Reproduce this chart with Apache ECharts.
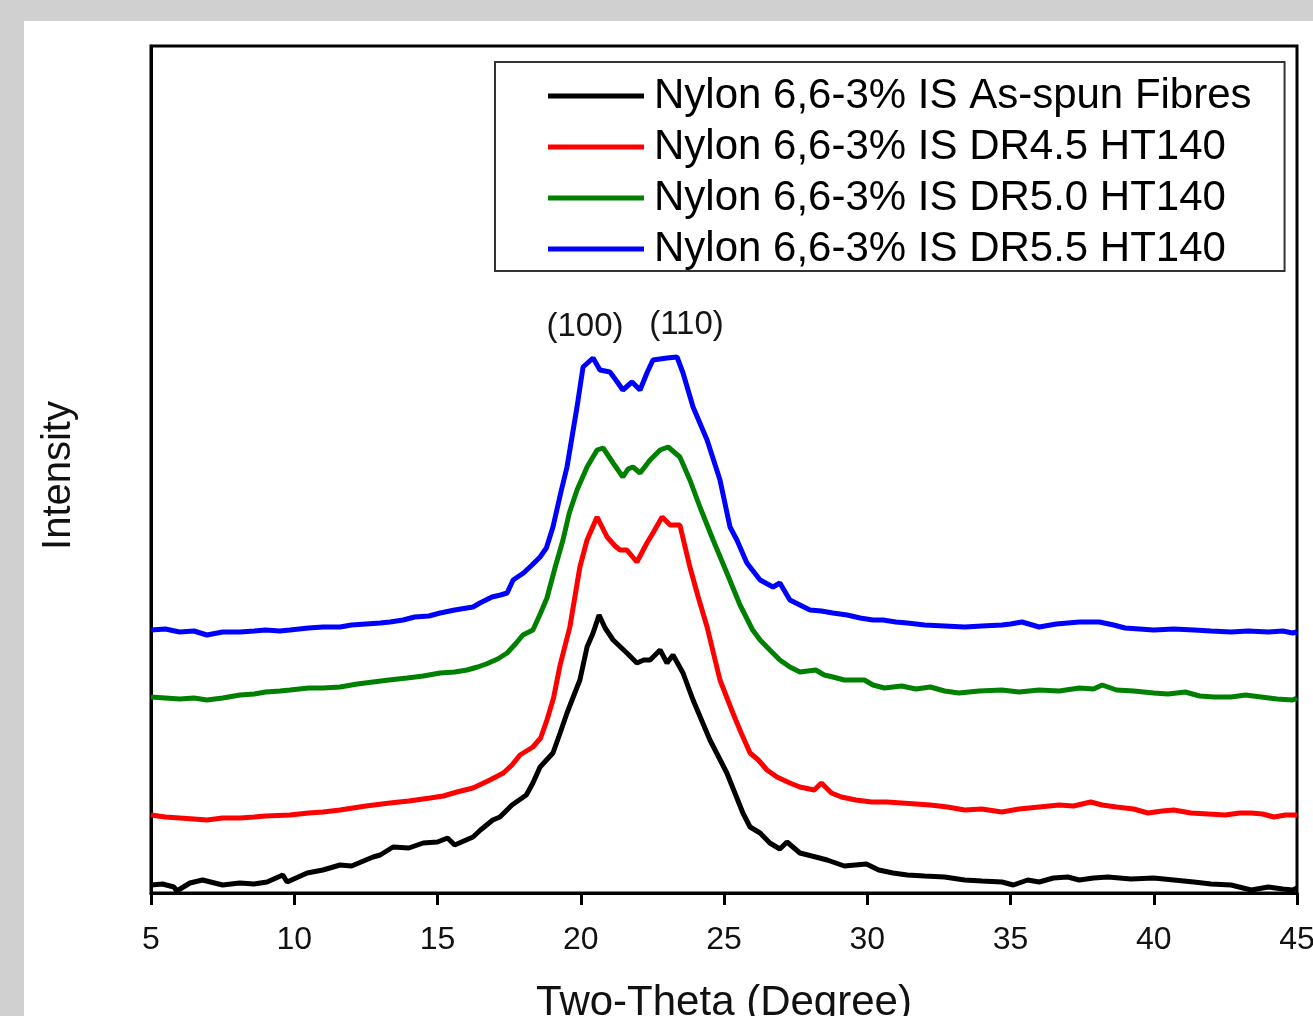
<!DOCTYPE html>
<html><head><meta charset="utf-8">
<script src="https://cdn.jsdelivr.net/npm/echarts@6/dist/echarts.min.js"></script>
<style>
html,body{margin:0;padding:0;background:#d1d0d1;width:1313px;height:1016px;overflow:hidden}
#panel{position:absolute;left:24px;top:21px;width:1289px;height:995px;background:#fff}
</style></head><body><div id="panel"></div>
<script>
const seriesNames = [
  'Nylon 6,6-3% IS As-spun Fibres',
  'Nylon 6,6-3% IS DR4.5 HT140',
  'Nylon 6,6-3% IS DR5.0 HT140',
  'Nylon 6,6-3% IS DR5.5 HT140'
];
const seriesColors = ['#000000', '#ff0000', '#008000', '#0000ff'];
const xTicks = [5, 10, 15, 20, 25, 30, 35, 40, 45];
const peakLabels = ['(100)', '(110)'];
const peakLabelPos = [[20.15, 566], [23.69, 568]];

// [two-theta (degree), intensity (a.u.)]
const asSpun = [[5.0,8],[5.4,9],[5.8,6],[5.9,2],[6.36,10],[6.8,13],[7.5,8],[8.1,10],[8.6,9],[9.05,11],[9.6,18],[9.75,11],[10.45,20],[11.0,23],[11.6,28],[12.0,27],[12.75,36],[13.0,38],[13.45,46],[14.0,45],[14.5,50],[15.0,51],[15.35,55],[15.6,48],[16.24,56],[16.5,63],[16.93,73],[17.18,76],[17.6,88],[18.1,98],[18.33,110],[18.58,126],[19.03,140],[19.28,160],[19.52,180],[19.97,213],[20.22,246],[20.43,260],[20.64,278],[20.85,265],[21.13,253],[21.61,240],[21.96,230],[22.2,233],[22.42,233],[22.77,243],[23.01,230],[23.22,238],[23.57,220],[23.92,193],[24.51,153],[25.1,120],[25.66,80],[25.91,66],[26.26,60],[26.6,50],[26.95,44],[27.2,51],[27.65,40],[28.2,36],[28.6,33],[28.8,31],[29.2,27],[29.97,29],[30.4,23],[30.9,20],[31.4,18],[32.0,17],[32.7,16],[33.4,13],[34.0,12],[34.7,11],[35.1,8],[35.6,13],[36.0,11],[36.5,15],[37.0,16],[37.4,13],[37.9,15],[38.4,16],[39.2,14],[40.0,15],[40.7,13],[41.4,11],[42.0,9],[42.7,8],[43.4,3],[44.0,6],[44.5,4],[44.85,3],[45.0,5]];
const dr45 = [[5.0,78],[5.5,76],[6.0,75],[6.5,74],[6.95,73],[7.5,75],[8.11,75],[8.6,76],[9.0,77],[9.85,78],[10.5,80],[11.0,81],[11.6,83],[12.5,87],[13.34,90],[14.0,92],[14.74,95],[15.2,97],[15.68,101],[16.24,105],[16.83,113],[17.3,120],[17.6,128],[17.88,138],[18.33,146],[18.6,155],[18.82,173],[19.05,195],[19.28,228],[19.62,266],[19.97,326],[20.22,353],[20.57,376],[20.92,356],[21.2,347],[21.37,343],[21.61,343],[21.96,331],[22.31,350],[22.52,360],[22.84,376],[23.12,368],[23.46,368],[23.81,326],[24.1,296],[24.41,266],[24.86,213],[25.31,180],[25.6,160],[25.91,140],[26.2,133],[26.5,123],[26.85,116],[27.3,110],[27.65,106],[28.15,103],[28.4,110],[28.75,100],[29.1,96],[29.6,93],[30.15,91],[30.7,91],[31.2,90],[31.7,89],[32.2,88],[32.8,86],[33.4,83],[34.0,84],[34.7,81],[35.3,84],[36.0,86],[36.7,88],[37.2,87],[37.8,91],[38.2,88],[38.7,86],[39.3,84],[39.8,80],[40.3,82],[40.7,83],[41.3,80],[41.9,79],[42.5,78],[43.0,80],[43.4,80],[43.8,79],[44.2,76],[44.6,78],[45.0,78]];
const dr50 = [[5.0,196],[5.5,195],[6.0,194],[6.5,195],[6.95,193],[7.5,195],[8.11,198],[8.6,199],[9.0,201],[9.5,202],[9.85,203],[10.5,205],[11.0,205],[11.6,206],[12.2,209],[12.75,211],[13.3,213],[13.94,215],[14.5,217],[15.09,220],[15.6,221],[16.03,223],[16.4,226],[16.7,229],[17.1,234],[17.43,240],[17.75,250],[17.98,258],[18.33,263],[18.6,280],[18.82,295],[19.1,325],[19.38,353],[19.6,380],[19.87,403],[20.22,426],[20.57,443],[20.78,445],[21.13,430],[21.47,416],[21.65,424],[21.82,426],[22.07,420],[22.42,433],[22.77,443],[23.05,446],[23.46,436],[23.81,413],[24.16,386],[24.62,353],[25.1,320],[25.56,288],[26.0,263],[26.26,253],[26.6,243],[26.95,233],[27.3,226],[27.65,221],[28.2,223],[28.5,218],[28.8,216],[29.2,213],[29.9,213],[30.2,208],[30.6,205],[31.2,207],[31.7,204],[32.2,206],[32.7,202],[33.2,200],[33.9,202],[34.7,203],[35.3,201],[36.0,203],[36.7,202],[37.4,205],[37.9,204],[38.2,208],[38.7,203],[39.3,202],[40.0,200],[40.5,199],[41.1,201],[41.6,197],[42.1,196],[42.7,196],[43.2,198],[43.75,196],[44.3,194],[44.85,193],[45.0,195]];
const dr55 = [[5.0,263],[5.5,264],[6.0,261],[6.5,262],[6.95,258],[7.5,261],[8.11,261],[8.6,262],[9.0,263],[9.5,262],[9.85,263],[10.5,265],[11.0,266],[11.6,266],[12.0,268],[12.5,269],[13.0,270],[13.34,271],[13.8,273],[14.2,276],[14.7,277],[15.09,280],[15.6,283],[16.24,286],[16.48,290],[16.9,296],[17.2,298],[17.43,300],[17.64,313],[18.0,320],[18.3,328],[18.58,336],[18.8,345],[19.03,366],[19.3,400],[19.52,426],[19.87,486],[20.08,526],[20.43,535],[20.67,523],[21.02,521],[21.25,512],[21.47,503],[21.79,511],[22.07,503],[22.31,520],[22.52,533],[23.01,535],[23.36,536],[23.57,520],[23.92,486],[24.41,453],[24.86,413],[25.21,366],[25.45,353],[25.8,330],[26.26,313],[26.71,306],[26.95,310],[27.3,293],[27.65,288],[28.0,283],[28.4,282],[28.8,280],[29.3,278],[29.75,275],[30.2,273],[30.55,273],[31.0,271],[31.4,270],[32.0,268],[32.7,267],[33.4,266],[34.0,267],[34.7,268],[35.0,269],[35.4,271],[36.0,266],[36.6,269],[37.4,271],[38.1,271],[38.6,268],[39.0,265],[39.5,264],[40.0,263],[40.7,264],[41.4,263],[42.0,262],[42.7,261],[43.3,262],[44.0,261],[44.5,262],[44.85,260],[45.0,261]];
const seriesData = [asSpun, dr45, dr50, dr55];

const FONT = 'Liberation Sans, Arial, sans-serif';
const chart = echarts.init(document.getElementById('panel'), null, {renderer: 'canvas'});

const series = seriesNames.map((name, i) => ({
  name: name,
  type: 'line',
  data: seriesData[i],
  symbol: 'none',
  smooth: false,
  lineStyle: {color: seriesColors[i], width: 5},
  itemStyle: {color: seriesColors[i]},
  z: 3
}));
series[3].markPoint = {
  symbol: 'circle',
  symbolSize: 1,
  itemStyle: {color: 'rgba(0,0,0,0)'},
  label: {show: true, position: 'inside', color: '#151515', fontSize: 33, fontFamily: FONT,
    formatter: p => p.name},
  data: peakLabels.map((t, k) => ({name: t, coord: peakLabelPos[k]}))
};

chart.setOption({
  animation: false,
  backgroundColor: '#ffffff',
  grid: {left: 127, top: 25, right: 16, bottom: 123, containLabel: false, outerBoundsMode: 'none',
    show: true, borderColor: '#000', borderWidth: 3, backgroundColor: 'transparent'},
  legend: {
    orient: 'vertical',
    left: 471, top: 41,
    data: seriesNames.map(n => ({name: n, icon: 'rect'})),
    itemWidth: 96, itemHeight: 5,
    itemGap: 9,
    padding: [13, 33, 1, 53],
    borderColor: '#333', borderWidth: 2,
    textStyle: {fontSize: 42, fontFamily: FONT, color: '#000', lineHeight: 42, padding: [0, 0, 0, 5]}
  },
  xAxis: {
    type: 'value', min: 5, max: 45, interval: 5,
    name: 'Two-Theta (Degree)', nameLocation: 'middle', nameGap: 89,
    nameTextStyle: {fontSize: 42, fontFamily: FONT, color: '#111'},
    axisLine: {show: true, onZero: false, lineStyle: {color: '#000', width: 3}},
    axisTick: {show: true, inside: false, length: 12, lineStyle: {color: '#000', width: 3}},
    axisLabel: {fontSize: 32, fontFamily: FONT, color: '#111', margin: 31,
      formatter: v => xTicks.includes(v) ? String(v) : ''},
    splitLine: {show: false}
  },
  yAxis: {
    type: 'value', min: 0, max: 847,
    name: 'Intensity', nameLocation: 'middle', nameGap: 72, nameRotate: 90,
    nameTextStyle: {fontSize: 40, fontFamily: FONT, color: '#111', padding: [0, 12, 0, 0]},
    axisLine: {show: true, lineStyle: {color: '#000', width: 3}},
    axisTick: {show: false},
    axisLabel: {show: false},
    splitLine: {show: false}
  },
  series: series
});
</script></body></html>
